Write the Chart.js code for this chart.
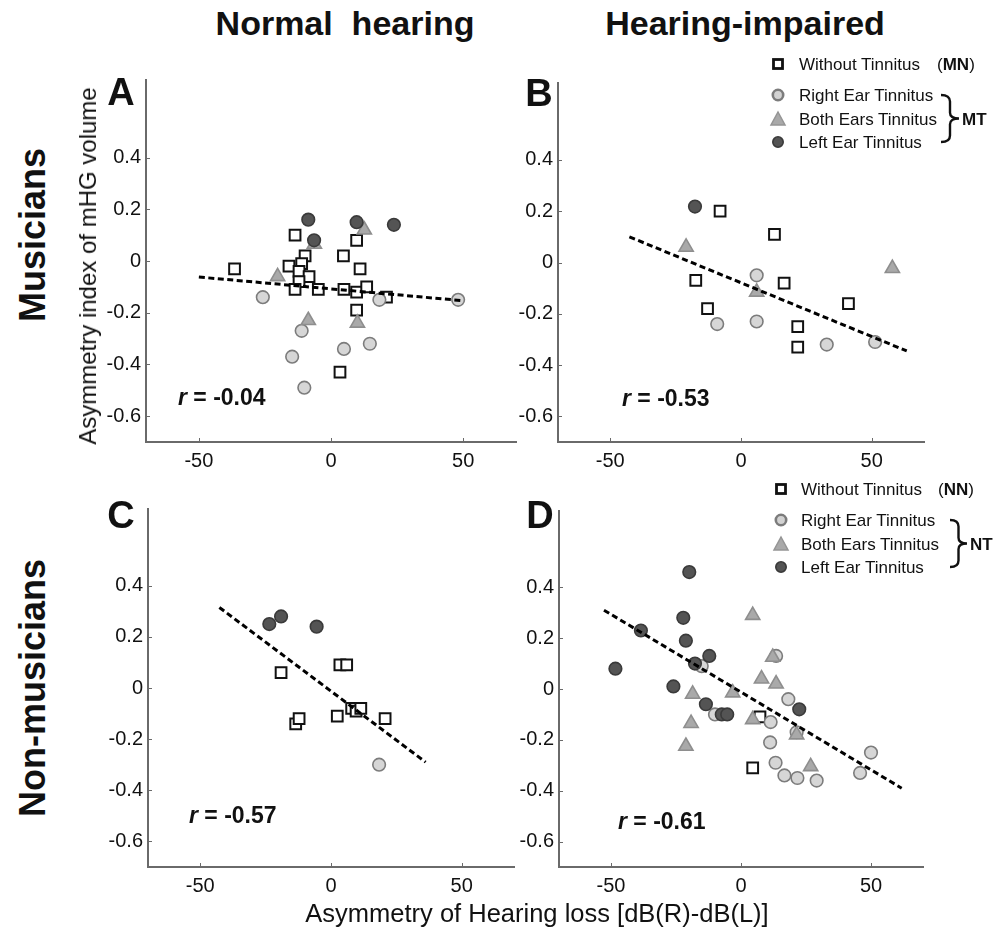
<!DOCTYPE html>
<html><head><meta charset="utf-8">
<script src="https://cdn.jsdelivr.net/npm/chart.js@4.4.1/dist/chart.umd.min.js"></script>
<style>
html,body{margin:0;padding:0;background:#fff;}
#root{position:relative;width:995px;height:932px;overflow:hidden;font-family:"Liberation Sans",Arial,sans-serif;color:#111;}
.panel{position:absolute;}
.t{position:absolute;white-space:nowrap;line-height:1;z-index:5;}
.c{transform:translate(-50%,-50%);}
.l{transform:translate(0,-50%);}
.rot{transform:translate(-50%,-50%) rotate(-90deg);}
.b{font-weight:bold;}
svg.sym{position:absolute;z-index:5;overflow:visible;}
</style></head><body><div id="root"></div>
<script>
// ---------- data ----------
const X_TICKS = [-50, 0, 50];
const Y_TICKS = [-0.6, -0.4, -0.2, 0, 0.2, 0.4];

// Panel A: Musicians, normal hearing
const A_without = [[-36.5,-0.03],[-13.6,0.10],[-9.8,0.02],[-15.9,-0.02],[-11.1,-0.01],[-12.1,-0.04],[-8.3,-0.06],[-12.1,-0.08],[-13.6,-0.11],[-4.8,-0.11],[4.7,0.02],[9.7,0.08],[11.0,-0.03],[4.9,-0.11],[9.7,-0.12],[13.5,-0.10],[21.0,-0.14],[9.7,-0.19],[3.4,-0.43]];
const A_right = [[-25.8,-0.14],[-11.1,-0.27],[-14.7,-0.37],[-10.1,-0.49],[4.9,-0.34],[14.7,-0.32],[18.3,-0.15],[48.1,-0.15]];
const A_both = [[12.6,0.12],[-6.3,0.065],[-20.2,-0.06],[-8.6,-0.23],[10.0,-0.24]];
const A_left = [[-8.6,0.16],[9.7,0.15],[23.8,0.14],[-6.4,0.08]];
const A_fit = [[-50,-0.062],[49.4,-0.153]];

// Panel B: Musicians, hearing-impaired
const B_without = [[-8.0,0.20],[12.8,0.11],[-17.3,-0.07],[16.5,-0.08],[-12.8,-0.18],[21.7,-0.25],[21.7,-0.33],[41.1,-0.16]];
const B_right = [[6.0,-0.05],[-9.1,-0.24],[6.0,-0.23],[32.8,-0.32],[51.3,-0.31]];
const B_both = [[-21.0,0.06],[57.9,-0.023],[6.0,-0.115]];
const B_left = [[-17.6,0.218]];
const B_fit = [[-42.7,0.10],[63.4,-0.345]];

// Panel C: Non-musicians, normal hearing
const C_without = [[-19.1,0.06],[3.4,0.09],[6.0,0.09],[-13.5,-0.14],[-12.2,-0.12],[2.4,-0.11],[7.9,-0.08],[9.6,-0.09],[11.4,-0.08],[20.7,-0.12]];
const C_right = [[18.4,-0.30]];
const C_both = [];
const C_left = [[-23.6,0.25],[-19.1,0.28],[-5.5,0.24]];
const C_fit = [[-42.7,0.315],[36.2,-0.29]];

// Panel D: Non-musicians, hearing-impaired
const D_without = [[7.3,-0.11],[4.5,-0.31]];
const D_right = [[-15.1,0.09],[-10.0,-0.10],[13.5,0.13],[18.2,-0.04],[11.4,-0.13],[11.2,-0.21],[13.3,-0.29],[16.7,-0.34],[21.7,-0.35],[29.1,-0.36],[50.0,-0.25],[45.8,-0.33],[21.4,-0.17]];
const D_both = [[4.5,0.29],[12.2,0.125],[7.9,0.04],[13.5,0.02],[-3.2,-0.015],[-18.6,-0.02],[-19.2,-0.135],[-21.2,-0.225],[4.5,-0.12],[21.4,-0.18],[26.8,-0.305]];
const D_left = [[-19.9,0.46],[-22.2,0.28],[-38.5,0.23],[-21.2,0.19],[-12.2,0.13],[-17.7,0.10],[-48.3,0.08],[-26.0,0.01],[-13.5,-0.06],[-7.4,-0.10],[-5.3,-0.10],[22.4,-0.08]];
const D_fit = [[-52.7,0.31],[61.8,-0.39]];

const R_VALUES = ['-0.04', '-0.53', '-0.57', '-0.61'];

// ---------- styles ----------
const FONT = '"Liberation Sans", Arial, sans-serif';
Chart.defaults.font.family = FONT;
Chart.defaults.color = '#111';

const STYLE = {
  without: {pointStyle:'rect', pointRadius:7.6, backgroundColor:'#ffffff', borderColor:'#111111', borderWidth:2},
  right:   {pointStyle:'circle', pointRadius:6.3, backgroundColor:'#d6d6d6', borderColor:'#7c7c7c', borderWidth:1.6},
  both:    {pointStyle:'triangle', pointRadius:8.2, backgroundColor:'#a9a9a9', borderColor:'#8e8e8e', borderWidth:1.6},
  left:    {pointStyle:'circle', pointRadius:6.3, backgroundColor:'#545454', borderColor:'#3a3a3a', borderWidth:1.6}
};
const AXIS_COLOR = '#6a6a6a';

const innerTicks = {
  id: 'innerTicks',
  afterDraw(chart) {
    const {ctx, chartArea: a, scales: {x, y}} = chart;
    ctx.save();
    ctx.strokeStyle = AXIS_COLOR; ctx.lineWidth = 1;
    ctx.beginPath();
    X_TICKS.forEach(v => { const px = Math.round(x.getPixelForValue(v)) + 0.5; ctx.moveTo(px, a.bottom); ctx.lineTo(px, a.bottom - 4); });
    Y_TICKS.forEach(v => { const py = Math.round(y.getPixelForValue(v)) + 0.5; ctx.moveTo(a.left, py); ctx.lineTo(a.left + 4, py); });
    ctx.stroke();
    ctx.restore();
  }
};

const toXY = arr => arr.map(([x, y]) => ({x, y}));

function makePanel(box, sets, fit) {
  const PL = 80, PT = 10, PR = 20, PB = 40;
  const w = box.R - box.L + PL + PR, h = box.B - box.T + PT + PB;
  const div = document.createElement('div');
  div.className = 'panel';
  div.style.left = (box.L - PL) + 'px';
  div.style.top = (box.T - PT) + 'px';
  div.style.width = w + 'px'; div.style.height = h + 'px';
  const cv = document.createElement('canvas');
  cv.width = w; cv.height = h;
  cv.style.width = w + 'px'; cv.style.height = h + 'px';
  div.appendChild(cv);
  document.getElementById('root').appendChild(div);

  const datasets = [{
    data: toXY(fit), showLine: true, borderColor: '#000', borderWidth: 3,
    borderDash: [6, 3.5], pointRadius: 0, fill: false
  }];
  ['left', 'both', 'right', 'without'].forEach(k => {
    datasets.push(Object.assign({data: toXY(sets[k]), pointHoverRadius: STYLE[k].pointRadius}, STYLE[k]));
  });

  new Chart(cv, {
    type: 'scatter',
    data: {datasets},
    options: {
      responsive: false, animation: false, devicePixelRatio: 1, events: [],
      layout: {padding: {left: 0, top: PT, right: PR, bottom: 0}},
      plugins: {legend: {display: false}, tooltip: {enabled: false}},
      scales: {
        x: {
          type: 'linear', min: -70, max: 70,
          grid: {display: false, drawTicks: false},
          border: {display: true, color: AXIS_COLOR, width: 2},
          ticks: {font: {size: 20}, color: '#111', padding: 7, maxRotation: 0, callback: v => String(v)},
          afterBuildTicks: s => { s.ticks = X_TICKS.map(v => ({value: v})); },
          afterFit: s => { s.height = PB; }
        },
        y: {
          type: 'linear', min: -0.7, max: 0.7,
          grid: {display: false, drawTicks: false},
          border: {display: true, color: AXIS_COLOR, width: 2},
          ticks: {font: {size: 20}, color: '#111', padding: 5, callback: v => (Math.abs(v) < 1e-9 ? '0' : v.toFixed(1))},
          afterBuildTicks: s => { s.ticks = Y_TICKS.map(v => ({value: v})); },
          afterFit: s => { s.width = PL; }
        }
      }
    },
    plugins: [innerTicks]
  });
}

makePanel({L:146, T:73, R:516, B:442}, {without:A_without, right:A_right, both:A_both, left:A_left}, A_fit);
makePanel({L:558, T:76, R:924, B:442}, {without:B_without, right:B_right, both:B_both, left:B_left}, B_fit);
makePanel({L:148, T:502, R:514, B:867}, {without:C_without, right:C_right, both:C_both, left:C_left}, C_fit);
makePanel({L:559, T:504, R:923, B:867}, {without:D_without, right:D_right, both:D_both, left:D_left}, D_fit);

// ---------- texts ----------
const root = document.getElementById('root');
function text(html, x, y, cls, size, extra) {
  const d = document.createElement('div');
  d.className = 't ' + cls;
  d.style.left = x + 'px'; d.style.top = y + 'px';
  d.style.fontSize = size + 'px';
  if (extra) Object.assign(d.style, extra);
  d.innerHTML = html;
  root.appendChild(d);
}
text('Normal&nbsp; hearing', 345, 23, 'c b', 34);
text('Hearing-impaired', 745, 23, 'c b', 34);
text('Musicians', 33, 235, 'rot b', 36);
text('Non-musicians', 33, 688, 'rot b', 36);
text('Asymmetry index of mHG volume', 88, 266, 'rot', 24);
text('Asymmetry of Hearing loss [dB(R)-dB(L)]', 537, 914, 'c', 25.5);
text('A', 121, 92, 'c b', 38);
text('B', 539, 93, 'c b', 38);
text('C', 121, 515, 'c b', 38);
text('D', 540, 515, 'c b', 38);
const rPos = [[178, 397], [622, 398], [189, 815], [618, 821]];
rPos.forEach(([x, y], i) => text('<i>r</i> = ' + R_VALUES[i], x, y, 'l b', 23));

// ---------- legends ----------
function sym(kind, cx, cy) {
  const ns = 'http://www.w3.org/2000/svg';
  const s = document.createElementNS(ns, 'svg');
  s.setAttribute('class', 'sym');
  s.setAttribute('width', 16); s.setAttribute('height', 16);
  s.style.left = (cx - 8) + 'px'; s.style.top = (cy - 8) + 'px';
  let el;
  if (kind === 'without') {
    el = document.createElementNS(ns, 'rect');
    el.setAttribute('x', 3.5); el.setAttribute('y', 3.5); el.setAttribute('width', 9); el.setAttribute('height', 9);
    el.setAttribute('fill', '#fff'); el.setAttribute('stroke', '#111'); el.setAttribute('stroke-width', 2.8);
  } else if (kind === 'both') {
    el = document.createElementNS(ns, 'polygon');
    el.setAttribute('points', '8,1 15,14 1,14');
    el.setAttribute('fill', '#a9a9a9'); el.setAttribute('stroke', '#959595'); el.setAttribute('stroke-width', 1.5);
  } else {
    el = document.createElementNS(ns, 'circle');
    el.setAttribute('cx', 8); el.setAttribute('cy', 8); el.setAttribute('r', 5.2);
    if (kind === 'right') { el.setAttribute('fill', '#d2d2d2'); el.setAttribute('stroke', '#7c7c7c'); el.setAttribute('stroke-width', 2.6); }
    else { el.setAttribute('fill', '#545454'); el.setAttribute('stroke', '#3a3a3a'); el.setAttribute('stroke-width', 1.6); }
  }
  s.appendChild(el);
  root.appendChild(s);
}
function brace(x0, y0, w, h) {
  const ns = 'http://www.w3.org/2000/svg';
  const s = document.createElementNS(ns, 'svg');
  s.setAttribute('class', 'sym');
  s.setAttribute('width', w + 4); s.setAttribute('height', h + 4);
  s.style.left = (x0 - 2) + 'px'; s.style.top = (y0 - 2) + 'px';
  const p = document.createElementNS(ns, 'path');
  const a = 2, m = 2 + w * 0.5, r = 2 + w, t = 2, b = 2 + h, c = 2 + h / 2;
  p.setAttribute('d', `M${a},${t} Q${m},${t} ${m},${t + h*0.14} L${m},${c - h*0.12} Q${m},${c} ${r},${c} Q${m},${c} ${m},${c + h*0.12} L${m},${b - h*0.14} Q${m},${b} ${a},${b}`);
  p.setAttribute('fill', 'none'); p.setAttribute('stroke', '#111'); p.setAttribute('stroke-width', 2.4);
  s.appendChild(p);
  root.appendChild(s);
}
function legend(o) {
  sym('without', o.sx, o.y0);
  text('Without Tinnitus', o.tx, o.y0, 'l', 17);
  text('(<b>' + o.g1 + '</b>)', o.gx, o.y0, 'l', 17);
  sym('right', o.sx, o.y1);
  text('Right Ear Tinnitus', o.tx, o.y1, 'l', 17);
  sym('both', o.sx, o.y2);
  text('Both Ears Tinnitus', o.tx, o.y2, 'l', 17);
  sym('left', o.sx, o.y3);
  text('Left Ear Tinnitus', o.tx, o.y3, 'l', 17);
  brace(o.bx, o.y1, o.bw, o.y3 - o.y1);
  text('<b>' + o.g2 + '</b>', o.bx + o.bw + 3, o.y2, 'l', 17);
}
legend({sx:778, tx:799, gx:937, y0:64, y1:95, y2:119, y3:142, g1:'MN', g2:'MT', bx:941, bw:18});
legend({sx:781, tx:801, gx:938, y0:489, y1:520, y2:544, y3:567, g1:'NN', g2:'NT', bx:950, bw:17});
</script>
</body></html>
